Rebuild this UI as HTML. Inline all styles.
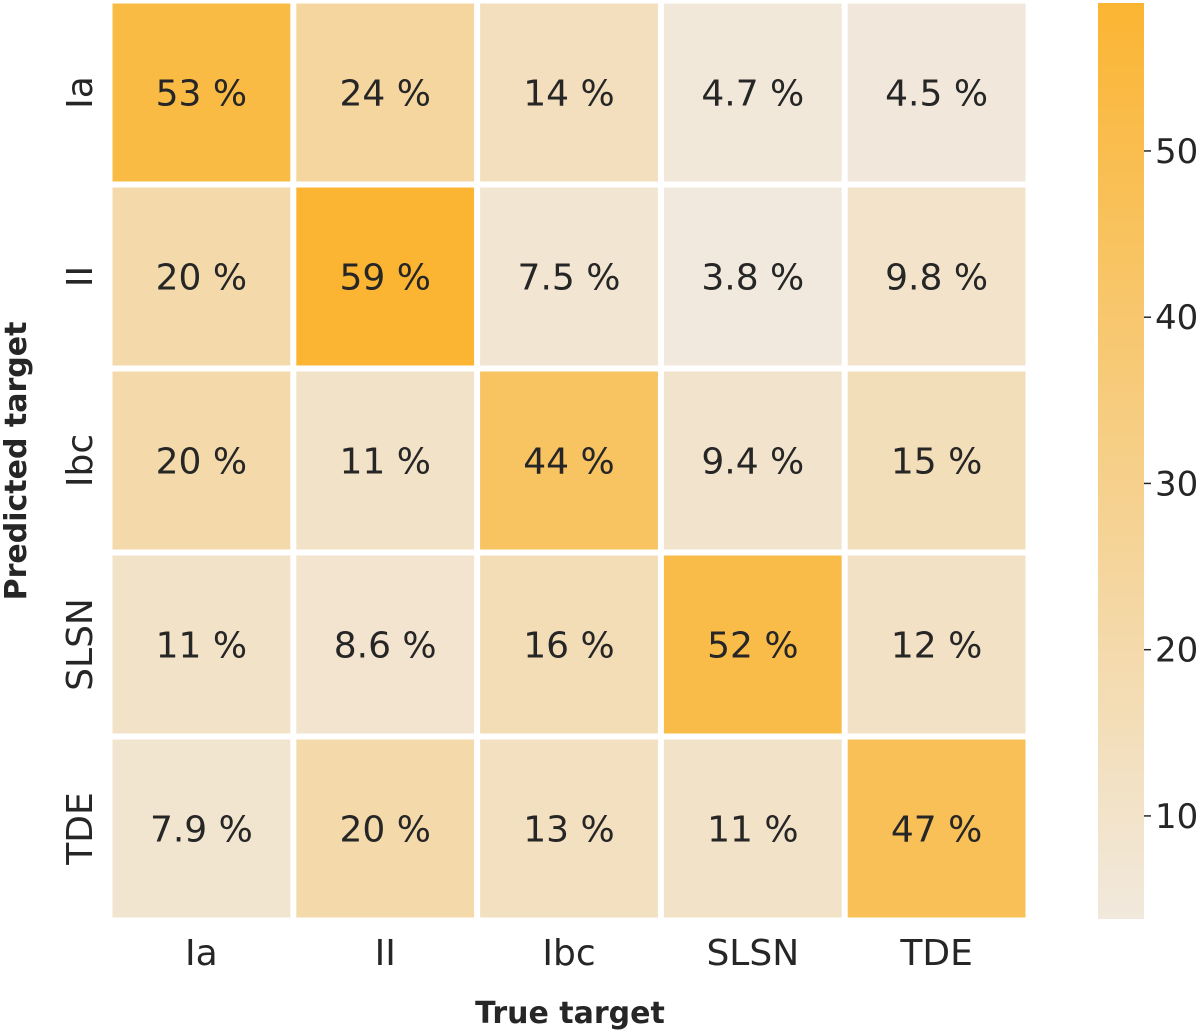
<!DOCTYPE html>
<html><head><meta charset="utf-8"><style>
body{margin:0;background:#fff;}
svg{display:block;font-family:"DejaVu Sans","Liberation Sans",sans-serif;}
</style></head><body>
<svg id="chart" width="1200" height="1031">
<defs><linearGradient id="cbg" x1="0" y1="1" x2="0" y2="0"><stop offset="0" stop-color="#f1e9dd"/><stop offset="1" stop-color="#fbb533"/></linearGradient></defs>
</svg>
<script>
const trueLabels=["Ia","II","Ibc","SLSN","TDE"];
const predLabels=["Ia","II","Ibc","SLSN","TDE"];
const row0=[53,24,14,4.7,4.5];
const row1=[20,59,7.5,3.8,9.8];
const row2=[20,11,44,9.4,15];
const row3=[11,8.6,16,52,12];
const row4=[7.9,20,13,11,47];
const cbTicks=[10,20,30,40,50];
const vmin=3.8, vmax=58.9;

const rows=[row0,row1,row2,row3,row4];
const svg=document.getElementById('chart');
const NS='http://www.w3.org/2000/svg';
const X0=109.5,Y0=0.5,W=919,H=920;
const cw=W/trueLabels.length, ch=H/predLabels.length;
const xPos=i=>X0+i*cw, yPos=j=>Y0+j*ch;
function mk(t,a,p){const e=document.createElementNS(NS,t);for(const k in a)e.setAttribute(k,a[k]);(p||svg).appendChild(e);return e;}
function color(v){let t=(v-vmin)/(vmax-vmin);t=Math.max(0,Math.min(1,t));
 const a=[241,233,221],b=[251,181,51];return `rgb(${a.map((c,i)=>Math.round(c+(b[i]-c)*t)).join(',')})`;}
function fmt(v){return v<10?v.toFixed(1):String(Math.round(v));}
rows.forEach((r,j)=>r.forEach((v,i)=>{
 const rc=mk('rect',{x:xPos(i)+3,y:yPos(j)+3,width:cw-6,height:ch-6,fill:color(v)});
 
 
 const tx=mk('text',{x:xPos(i)+cw/2,y:yPos(j)+ch/2+13,'text-anchor':'middle','font-size':36,fill:'#262626'});
 tx.textContent=fmt(v)+' %';
 
 
}));
trueLabels.forEach((l,i)=>{const t=mk('text',{x:xPos(i)+cw/2,y:965,'text-anchor':'middle','font-size':36,fill:'#262626'});t.textContent=l;
 
 });
predLabels.forEach((l,j)=>{const cy=yPos(j)+ch/2;const t=mk('text',{x:0,y:0,transform:`translate(92,${cy}) rotate(-90)`,'text-anchor':'middle','font-size':36,fill:'#262626'});t.textContent=l;
 
 });
const xt=mk('text',{x:570,y:1023,'text-anchor':'middle','font-size':30,'font-weight':'bold',fill:'#262626'});xt.textContent='True target';


const yt=mk('text',{transform:'translate(26,461) rotate(-90)','text-anchor':'middle','font-size':30,'font-weight':'bold',fill:'#262626'});yt.textContent='Predicted target';


// colorbar
const CB0=3,CB1=919;
const cbY=v=>CB1-(v-vmin)/(vmax-vmin)*(CB1-CB0);
const cb=mk('rect',{x:1098,y:CB0,width:46,height:CB1-CB0,fill:'url(#cbg)'});


cbTicks.forEach(v=>{const y=cbY(v);
 mk('line',{x1:1144,x2:1151,y1:y,y2:y,stroke:'#262626','stroke-width':1.5});
 const t=mk('text',{x:1155,y:y+12,'font-size':34,fill:'#262626'});t.textContent=v;
 
 });
</script>
</body></html>
